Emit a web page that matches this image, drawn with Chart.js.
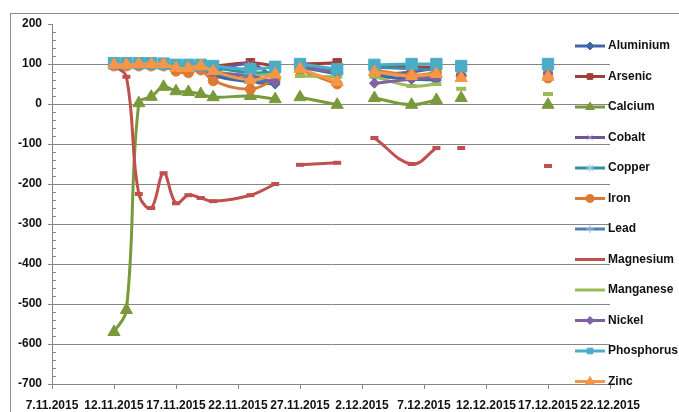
<!DOCTYPE html>
<html>
<head>
<meta charset="utf-8">
<script src="https://cdn.jsdelivr.net/npm/chart.js@4/dist/chart.umd.min.js"></script>
<style>
  html, body { margin: 0; padding: 0; background: #fff; }
</style>
</head>
<body>
<canvas id="chart" width="679" height="412"></canvas>
<script>
// sampling dates (empty rows give the breaks in the lines)
const dates = ['12.11.2015', '13.11.2015', '14.11.2015', '15.11.2015', '16.11.2015', '17.11.2015',
  '18.11.2015', '19.11.2015', '20.11.2015', '23.11.2015', '25.11.2015', '26.11.2015', '27.11.2015',
  '30.11.2015', '1.12.2015', '3.12.2015', '6.12.2015', '8.12.2015', '9.12.2015', '10.12.2015',
  '13.12.2015', '17.12.2015'];
const tickLabels = ['7.11.2015', '12.11.2015', '17.11.2015', '22.11.2015', '27.11.2015',
  '2.12.2015', '7.12.2015', '12.12.2015', '17.12.2015', '22.12.2015'];

const aluminium = [98, 98, 98, 97, 97, 92, 90, 92, 72, 55, 50, null, 92, 75, null, 70, 62, 60, null, 75, null, 78];
const arsenic = [97, 98, 98, 98, 98, 96, 95, 95, 95, 103, 95, null, 100, 103, null, 95, 93, 92, null, 90, null, 92];
const calcium = [-570, -515, 2, 18, 43, 32, 30, 25, 17, 20, 12, null, 17, -2, null, 15, -2, 10, null, 15, null, -2];
const cobalt = [100, 100, 100, 100, 100, 98, 100, 100, 85, 100, 65, null, 98, 85, null, 72, 80, 90, null, 78, null, 82];
const copper = [100, 100, 100, 100, 100, 98, 98, 98, 92, 78, 80, null, 95, 78, null, 92, 88, 85, null, 85, null, 85];
const iron = [95, 95, 95, 95, 95, 82, 78, 85, 58, 37, 62, null, 85, 50, null, 85, 72, 78, null, 70, null, 65];
const lead = [100, 100, 100, 100, 100, 95, 95, 95, 78, 62, 55, null, 95, 80, null, 78, 70, 68, null, 80, null, 80];
const magnesium = [95, 68, -225, -260, -173, -248, -228, -235, -243, -228, -200, null, -152, -147, null, -85, -150, -110, null, -110, null, -155];
const manganese = [98, 98, 98, 98, 98, 95, 95, 95, 82, 72, 75, null, 70, 68, null, 68, 45, 50, null, 38, null, 25];
const nickel = [100, 100, 100, 100, 100, 97, 97, 97, 80, 70, 55, null, 97, 78, null, 52, 62, 65, null, 72, null, 75];
const phosphorus = [102, 102, 102, 102, 101, 98, 98, 98, 95, 87, 93, null, 100, 87, null, 98, 100, 100, null, 95, null, 100];
const zinc = [98, 98, 100, 100, 100, 90, 90, 95, 82, 60, 74, null, 88, 55, null, 80, 70, 75, null, 65, null, 68];

// days counted from 7.11.2015
function dayOf(s) {
  const [d, m, y] = s.split('.').map(Number);
  return (Date.UTC(y, m - 1, d) - Date.UTC(2015, 10, 7)) / 86400000;
}
const days = dates.map(dayOf);

const FONT = '"Liberation Sans", Arial, sans-serif';

function series(label, values, color, style, radius, markerColor) {
  return {
    label: label,
    data: days.map((x, i) => ({ x: x, y: values[i] })),
    borderColor: color,
    backgroundColor: color,
    borderWidth: 3,
    tension: 0.4,
    spanGaps: false,
    pointStyle: style,
    pointRadius: radius,
    pointBackgroundColor: color,
    pointBorderColor: markerColor || color,
    pointBorderWidth: style === 'line' ? 4 : 1,
  };
}

const datasets = [
  series('Aluminium', aluminium, '#3d68a8', 'rectRot', 5),
  series('Arsenic', arsenic, '#a23d3b', 'rect', 6),
  series('Calcium', calcium, '#789a3b', 'triangle', 7),
  series('Cobalt', cobalt, '#705596', 'crossRot', 5, '#b3a6cc'),
  series('Copper', copper, '#3290aa', 'star', 5, '#9fd3e2'),
  series('Iron', iron, '#dc7a34', 'circle', 5),
  series('Lead', lead, '#4a7ebb', 'cross', 5, '#9ab6dd'),
  series('Magnesium', magnesium, '#c0504d', 'line', 4),
  series('Manganese', manganese, '#9bbb59', 'line', 5),
  series('Nickel', nickel, '#7f63a1', 'rectRot', 5),
  series('Phosphorus', phosphorus, '#4bacc6', 'rect', 8),
  series('Zinc', zinc, '#f79646', 'triangle', 7),
];
// later series sit on top
datasets.forEach((ds, i) => { ds.order = datasets.length - i; });

const legendMarkers = ['rectRot', 'rect', 'triangle', 'crossRot', 'star', 'circle', 'cross', false, false, 'rectRot', 'rect', 'triangle'];

const decor = {
  id: 'decor',
  beforeDraw(chart) {
    const ctx = chart.ctx;
    ctx.save();
    ctx.strokeStyle = '#8c8c8c';
    ctx.lineWidth = 1;
    ctx.strokeRect(10.5, 13.5, 700, 420);
    ctx.restore();
  },
  afterDraw(chart) {
    const ctx = chart.ctx;
    const yScale = chart.scales.y;
    const left = chart.chartArea.left;
    ctx.save();
    // minor ticks on the value axis
    ctx.strokeStyle = '#868686';
    ctx.lineWidth = 1;
    for (let v = -700; v <= 200; v += 20) {
      if (v % 100 === 0) continue;
      const py = Math.round(yScale.getPixelForValue(v)) + 0.5;
      ctx.beginPath();
      ctx.moveTo(left, py);
      ctx.lineTo(left + 4, py);
      ctx.stroke();
    }
    // legend over the right side of the plot
    chart.data.datasets.forEach((ds, i) => {
      const y = 46 + i * 30.5;
      ctx.strokeStyle = ds.borderColor;
      ctx.lineWidth = 3;
      ctx.beginPath();
      ctx.moveTo(575, y);
      ctx.lineTo(605, y);
      ctx.stroke();
      const m = legendMarkers[i];
      if (m && Chart.helpers && Chart.helpers.drawPoint) {
        ctx.fillStyle = ds.pointBackgroundColor;
        ctx.strokeStyle = ds.pointBorderColor;
        ctx.lineWidth = 1;
        Chart.helpers.drawPoint(ctx, { pointStyle: m, radius: m === 'triangle' ? 5 : 4, borderWidth: 1, rotation: 0 }, 590, y);
      }
      ctx.fillStyle = '#111';
      ctx.font = 'bold 12px ' + FONT;
      ctx.textBaseline = 'middle';
      ctx.textAlign = 'left';
      ctx.fillText(ds.label, 608, y);
    });
    ctx.restore();
  }
};

new Chart(document.getElementById('chart'), {
  type: 'line',
  data: { datasets: datasets },
  plugins: [decor],
  options: {
    responsive: false,
    animation: false,
    devicePixelRatio: 1,
    layout: { padding: { left: 10, top: 24, right: 69, bottom: 0 } },
    plugins: {
      legend: { display: false },
      tooltip: { enabled: false },
    },
    scales: {
      x: {
        type: 'linear',
        min: 0,
        max: 45,
        afterFit: (s) => { s.height = 28; },
        grid: { drawOnChartArea: false, drawTicks: true, tickLength: 5, color: '#868686' },
        border: { color: '#868686' },
        ticks: {
          stepSize: 5,
          autoSkip: false,
          maxRotation: 0,
          padding: 9,
          color: '#111',
          font: { family: FONT, size: 12, weight: 'bold' },
          callback: (v) => tickLabels[Math.round(v / 5)],
        },
      },
      y: {
        min: -700,
        max: 200,
        afterFit: (s) => { s.width = 42; },
        grid: {
          color: (c) => (c.tick && c.tick.value === 200 ? 'rgba(0,0,0,0)' : '#868686'),
          tickColor: '#868686',
          tickLength: 4,
        },
        border: { color: '#868686' },
        ticks: {
          stepSize: 100,
          padding: 6,
          color: '#111',
          font: { family: FONT, size: 12, weight: 'bold' },
        },
      },
    },
  },
});
</script>
</body>
</html>
